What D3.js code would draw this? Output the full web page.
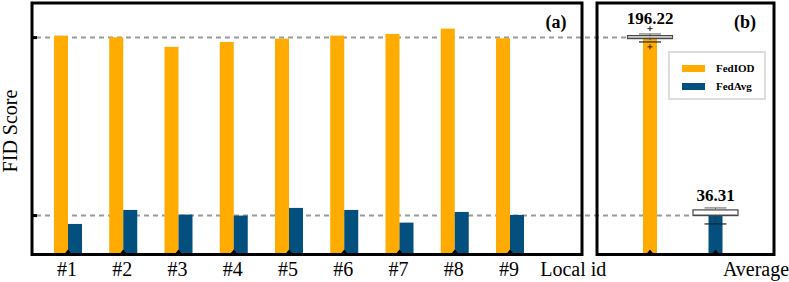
<!DOCTYPE html>
<html>
<head>
<meta charset="utf-8">
<script src="https://cdn.jsdelivr.net/npm/d3@7.9.0/dist/d3.min.js"></script>
<style>
  body { margin: 0; background: #fff; }
  svg { display: block; }
</style>
</head>
<body>
<svg id="chart" width="789" height="282" font-family="'Liberation Serif', 'DejaVu Serif', serif"></svg>
<script>
// values
const clients = ['#1', '#2', '#3', '#4', '#5', '#6', '#7', '#8', '#9'];
const fediod = [198.0, 196.5, 187.9, 192.3, 195.3, 198.0, 199.5, 204.3, 195.6];
const fedavg = [28.8, 41.4, 37.2, 36.3, 43.2, 41.4, 30.0, 39.6, 36.9];
const methods = ['FedIOD', 'FedAvg'];
const averages = [196.22, 36.31];
const colors = ['#FFAB00', '#03507E'];

const svg = d3.select('#chart');
const frameTop = 3, frameBottom = 254.5;
const panelA = { x0: 32, x1: 582 };
const panelB = { x0: 597, x1: 774 };
const barW = 14;

const y = d3.scaleLinear().domain([0, 230]).range([256, 0]);
const x = d3.scaleLinear().domain([1, 10]).range([68, 565.25]);
const xb = d3.scalePoint().domain(methods).range([650, 715.5]);

// dashed reference lines at the averages
const dashEnds = [627, 692];
averages.forEach((v, i) => {
  svg.append('line')
    .attr('x1', panelA.x0 + 4).attr('x2', dashEnds[i])
    .attr('y1', y(v)).attr('y2', y(v))
    .attr('stroke', '#9a9a9a').attr('stroke-width', 2)
    .attr('stroke-dasharray', '5,4');
});

// panel (a) bars
const gA = svg.append('g');
gA.selectAll('rect.iod').data(fediod).join('rect')
  .attr('x', (d, i) => x(i + 1) - barW)
  .attr('y', d => y(d))
  .attr('width', barW)
  .attr('height', d => y(0) - y(d))
  .attr('fill', colors[0]);
gA.selectAll('rect.avg').data(fedavg).join('rect')
  .attr('x', (d, i) => x(i + 1))
  .attr('y', d => y(d))
  .attr('width', barW)
  .attr('height', d => y(0) - y(d))
  .attr('fill', colors[1]);

// panel (b) bars
svg.selectAll('rect.mean').data(averages).join('rect')
  .attr('x', (d, i) => xb(methods[i]) - barW / 2)
  .attr('y', d => y(d))
  .attr('width', barW)
  .attr('height', d => y(0) - y(d))
  .attr('fill', (d, i) => colors[i]);

// box plots over the averages
[fediod, fedavg].forEach((vals, i) => {
  const s = vals.slice().sort(d3.ascending);
  const q1 = d3.quantile(s, 0.25), q3 = d3.quantile(s, 0.75), med = d3.quantile(s, 0.5);
  const iqr = q3 - q1;
  const inside = s.filter(v => v >= q1 - 1.5 * iqr && v <= q3 + 1.5 * iqr);
  const lo = d3.min(inside), hi = d3.max(inside);
  const fliers = s.filter(v => v < lo || v > hi);
  const cx = xb(methods[i]);
  const g = svg.append('g');
  g.append('line').attr('x1', cx).attr('x2', cx).attr('y1', y(hi)).attr('y2', y(lo))
    .attr('stroke', '#333').attr('stroke-width', 1).attr('stroke-dasharray', '1,1.5');
  [hi, lo].forEach((w, k) => {
    g.append('line').attr('x1', cx - 11).attr('x2', cx + 11)
      .attr('y1', y(w)).attr('y2', y(w))
      .attr('stroke', k === 0 ? '#777' : '#222').attr('stroke-width', 1.2);
  });
  g.append('rect')
    .attr('x', cx - 22.5).attr('y', y(q3))
    .attr('width', 45).attr('height', y(q1) - y(q3))
    .attr('fill', '#fff').attr('fill-opacity', i === 0 ? 0.45 : 0.9)
    .attr('stroke', '#444').attr('stroke-width', 1.2);
  g.append('line').attr('x1', cx - 22.5).attr('x2', cx + 22.5)
    .attr('y1', y(med)).attr('y2', y(med))
    .attr('stroke', '#888').attr('stroke-width', 0.8);
  g.selectAll('path.flier').data(fliers).join('path')
    .attr('d', d => `M${cx - 2.5},${y(d)} H${cx + 2.5} M${cx},${y(d) - 2.5} V${y(d) + 2.5}`)
    .attr('stroke', '#222').attr('stroke-width', 1);
  svg.append('text')
    .attr('x', cx).attr('y', i === 0 ? 24 : 201)
    .attr('text-anchor', 'middle')
    .attr('font-size', 17).attr('font-weight', 'bold')
    .text(averages[i].toFixed(2));
});

// small markers at the base
const baseMarks = clients.map((c, i) => x(i + 1)).concat(methods.map(m => xb(m)));
svg.selectAll('path.mark').data(baseMarks).join('path')
  .attr('d', d => `M${d - 4},${frameBottom} L${d},${frameBottom - 5} L${d + 4},${frameBottom} Z`)
  .attr('fill', '#000');

// frames
[panelA, panelB].forEach(p => {
  svg.append('rect')
    .attr('x', p.x0).attr('y', frameTop)
    .attr('width', p.x1 - p.x0).attr('height', frameBottom - frameTop)
    .attr('fill', 'none').attr('stroke', '#000').attr('stroke-width', 3);
});

// y ticks on the left frame
averages.forEach(v => {
  svg.append('line')
    .attr('x1', panelA.x0).attr('x2', panelA.x0 + 5)
    .attr('y1', y(v)).attr('y2', y(v))
    .attr('stroke', '#000').attr('stroke-width', 3);
});

// x tick labels
svg.selectAll('text.xt').data(clients).join('text')
  .attr('x', (d, i) => x(i + 1) - 1)
  .attr('y', 276)
  .attr('text-anchor', 'middle')
  .attr('font-size', 20)
  .text(d => d);
svg.append('text').attr('x', x(10) + 8).attr('y', 276)
  .attr('text-anchor', 'middle').attr('font-size', 20).text('Local id');
svg.append('text').attr('x', 756).attr('y', 276)
  .attr('text-anchor', 'middle').attr('font-size', 20).text('Average');

// y label
svg.append('text')
  .attr('transform', 'translate(17,131) rotate(-90)')
  .attr('text-anchor', 'middle')
  .attr('font-size', 20)
  .text('FID Score');

// panel tags
svg.append('text').attr('x', 556).attr('y', 28).attr('text-anchor', 'middle')
  .attr('font-size', 18).attr('font-weight', 'bold').text('(a)');
svg.append('text').attr('x', 745).attr('y', 28).attr('text-anchor', 'middle')
  .attr('font-size', 18).attr('font-weight', 'bold').text('(b)');

// legend
const lg = svg.append('g');
lg.append('rect').attr('x', 669).attr('y', 52).attr('width', 96).attr('height', 47)
  .attr('fill', '#fff').attr('stroke', '#ddd').attr('stroke-width', 2);
methods.forEach((m, i) => {
  lg.append('rect').attr('x', 682).attr('y', 65 + i * 18).attr('width', 23).attr('height', 7)
    .attr('fill', colors[i]);
  lg.append('text').attr('x', 716).attr('y', 72 + i * 18)
    .attr('font-size', 11).attr('font-weight', 'bold').text(m);
});
</script>
</body>
</html>
